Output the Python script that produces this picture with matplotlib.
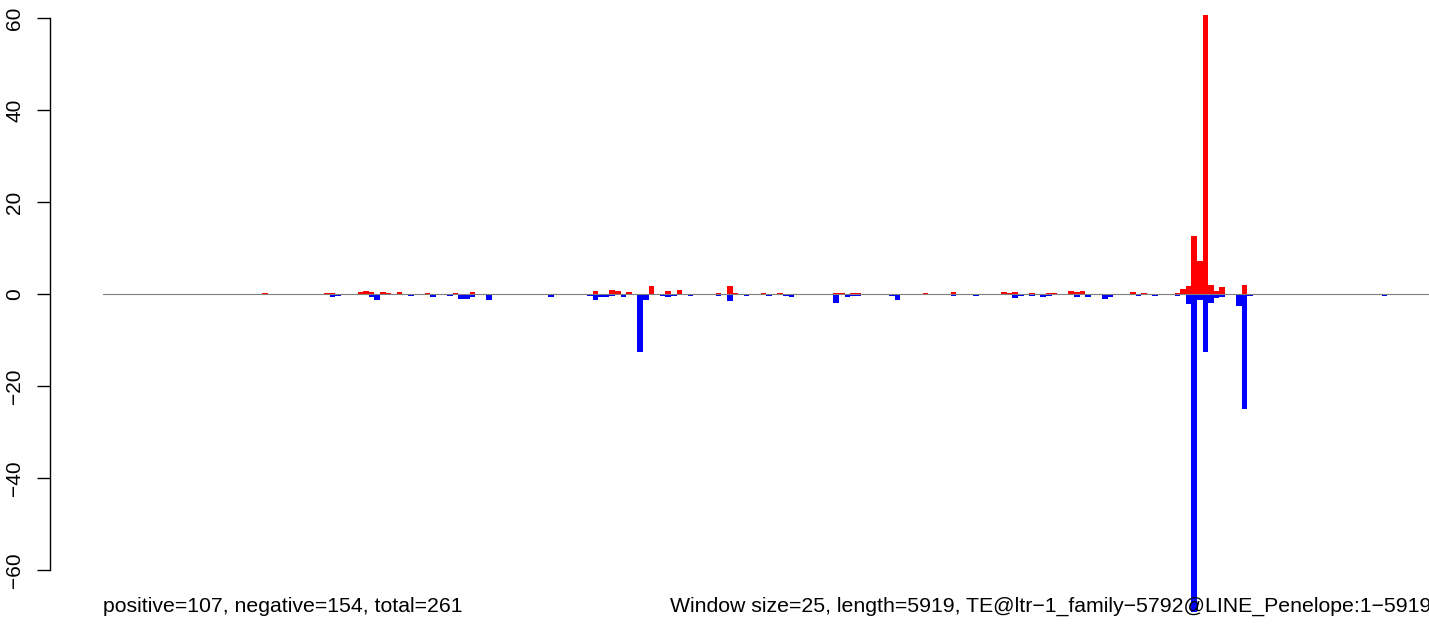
import matplotlib
matplotlib.use("Agg")
import matplotlib.pyplot as plt
import numpy as np

plt.rcParams['font.family'] = ['Liberation Sans', 'DejaVu Sans']

# window settings
window = 25
length = 5919

# windows (1-based index) with positive signal, and its height
pos_win = [29, 40, 41, 46, 47, 48, 50, 51, 53, 58, 63, 66, 88, 91, 92, 94, 98, 101,
           103, 110, 112, 113, 118, 121, 131, 132, 134, 135, 147, 152, 161, 162, 163,
           166, 169, 170, 173, 174, 175, 184, 186, 192, 193, 194, 195, 196, 197, 198,
           199, 200, 204]
pos_val = [0.2, 0.3, 0.3, 0.45, 0.6, 0.45, 0.45, 0.2, 0.45, 0.2, 0.2, 0.45, 0.6, 0.95, 0.6, 0.45, 1.7, 0.75,
           0.95, 0.2, 1.8, 0.2, 0.2, 0.2, 0.2, 0.2, 0.2, 0.2, 0.2, 0.45, 0.45, 0.2, 0.45,
           0.3, 0.3, 0.2, 0.6, 0.45, 0.6, 0.45, 0.2, 0.2, 1.0, 1.8, 12.7, 7.2, 60.6, 2.0,
           0.6, 1.6, 2.0]

# windows with negative signal, and its depth
neg_win = [41, 42, 48, 49, 55, 59, 62, 64, 65, 66, 69, 80, 87, 88, 89, 90, 91, 93, 96,
           97, 100, 101, 102, 105, 110, 112, 115, 119, 122, 123, 131, 133, 134, 135, 141,
           142, 152, 156, 163, 164, 166, 168, 169, 174, 176, 179, 180, 185, 188, 192,
           194, 195, 196, 197, 198, 199, 200, 203, 204, 205, 229]
neg_val = [0.6, 0.35, 0.6, 1.2, 0.45, 0.75, 0.45, 1.0, 1.0, 0.6, 1.2, 0.6, 0.45, 1.2, 0.75, 0.75, 0.45, 0.6, 12.6,
           1.4, 0.45, 0.75, 0.45, 0.45, 0.45, 1.6, 0.45, 0.45, 0.45, 0.6, 1.9, 0.75, 0.45, 0.45, 0.45,
           1.4, 0.45, 0.45, 0.95, 0.45, 0.45, 0.6, 0.45, 0.6, 0.6, 1.0, 0.6, 0.45, 0.45, 0.45,
           2.2, 69.2, 1.4, 12.7, 2.0, 0.95, 0.75, 2.7, 24.9, 0.45, 0.45]

left_text = "positive=107, negative=154, total=261"
right_text = "Window size=25, length=5919, TE@ltr\u22121_family\u22125792@LINE_Penelope:1\u22125919"

W, H = 1429, 634
fig = plt.figure(figsize=(W / 100, H / 100), dpi=100)

# plot area: y axis spine at px 50, data 0..length maps to px 103..1428
scale = 1325 / length
ax = fig.add_axes([50 / W, 1 - 570 / H, (W - 50) / W, (570 - 18) / H])
ax.set_xlim(-53 / scale, (W - 103) / scale)
ax.set_ylim(-60, 60)

ax.bar(np.array(pos_win) * window, pos_val, width=window, color='#FF0000',
       linewidth=0, clip_on=False, zorder=2)
ax.bar(np.array(neg_win) * window, -np.array(neg_val), width=window, color='#0000FF',
       linewidth=0, clip_on=False, zorder=2)
ax.plot([0, length], [0, 0], color='#7f7f7f', linewidth=0.8, zorder=3)

for s in ['top', 'right', 'bottom']:
    ax.spines[s].set_visible(False)
ax.spines['left'].set_linewidth(1.0)
ax.set_xticks([])
ax.set_yticks([-60, -40, -20, 0, 20, 40, 60])
ax.set_yticklabels(['\u221260', '\u221240', '\u221220', '0', '20', '40', '60'],
                   rotation=90, va='center', fontsize=15)
ax.tick_params(axis='y', length=9.4, width=1.0, pad=9)

fig.text(103 / W, 1 - 612 / H, left_text, ha='left', va='baseline', fontsize=15.3)
fig.text(670 / W, 1 - 612 / H, right_text, ha='left', va='baseline', fontsize=15.3,
         zorder=1)

fig.savefig("out.png", dpi=100)
plt.close()
